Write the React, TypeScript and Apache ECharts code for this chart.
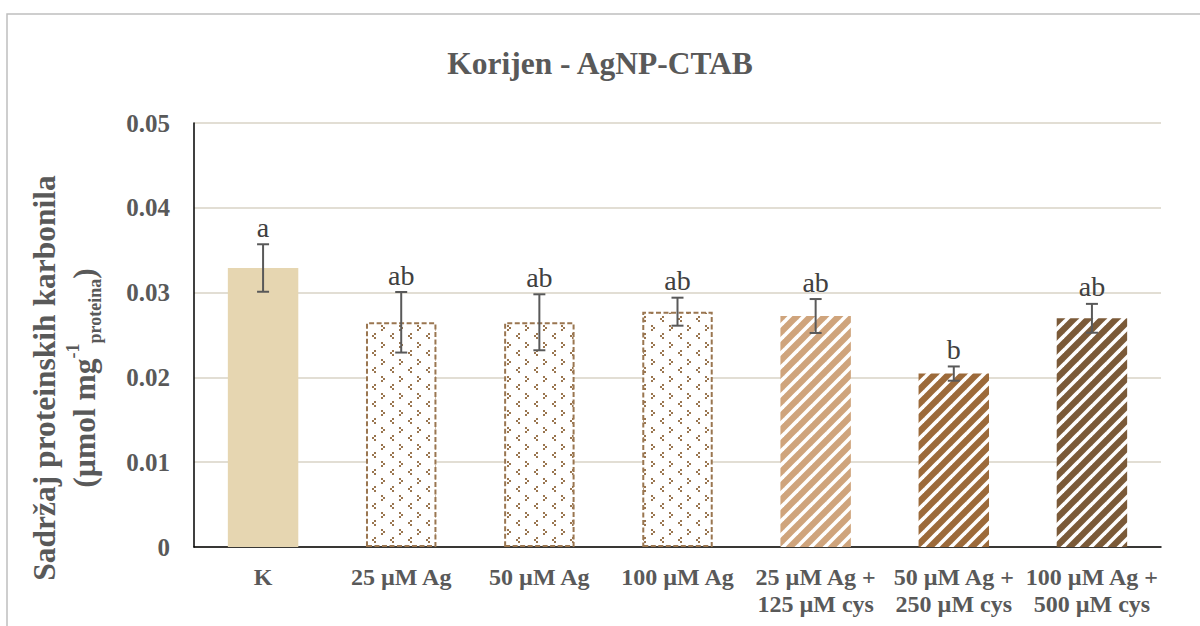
import React, { useEffect, useRef } from "react";
import * as echarts from "echarts";

const categories = [
  "K",
  "25 µM Ag",
  "50 µM Ag",
  "100 µM Ag",
  "25 µM Ag +\n125 µM cys",
  "50 µM Ag +\n250 µM cys",
  "100 µM Ag +\n500 µM cys",
];
const means = [0.0329, 0.0265, 0.0265, 0.02775, 0.02724, 0.02045, 0.02697];
const errors = [0.0028, 0.00357, 0.0033, 0.00165, 0.002, 0.00084, 0.0017];
const letters = ["a", "ab", "ab", "ab", "ab", "b", "ab"];
const yTicks = [0, 0.01, 0.02, 0.03, 0.04, 0.05];

const SERIF = "'Liberation Serif', 'Times New Roman', serif";

function stripePattern(color: string) {
  const N = 14;
  const c = document.createElement("canvas");
  c.width = N;
  c.height = N;
  const ctx = c.getContext("2d")!;
  ctx.fillStyle = color;
  ctx.fillRect(0, 0, N, N);
  ctx.strokeStyle = "#ffffff";
  ctx.lineWidth = 3.6;
  for (const k of [0, N, 2 * N]) {
    ctx.beginPath();
    ctx.moveTo(k - 2 * N, 2 * N);
    ctx.lineTo(k + 2 * N, -2 * N);
    ctx.stroke();
  }
  return { image: c, repeat: "repeat", imageWidth: N, imageHeight: N } as any;
}

function dotPattern(color: string) {
  const W = 18;
  const H = 17;
  const c = document.createElement("canvas");
  c.width = W;
  c.height = H;
  const ctx = c.getContext("2d")!;
  ctx.fillStyle = "#ffffff";
  ctx.fillRect(0, 0, W, H);
  ctx.fillStyle = color;
  // ">" mark
  ctx.fillRect(3, 2, 2, 2);
  ctx.fillRect(5, 4, 2, 2);
  ctx.fillRect(3, 6, 2, 2);
  // "<" mark
  ctx.fillRect(14, 10, 2, 2);
  ctx.fillRect(12, 12, 2, 2);
  ctx.fillRect(14, 14, 2, 2);
  return { image: c, repeat: "repeat", imageWidth: W, imageHeight: H } as any;
}

export default function App() {
  const ref = useRef<HTMLDivElement>(null);

  useEffect(() => {
    if (!ref.current) return;
    const chart = echarts.init(ref.current, undefined, { renderer: "svg" });

    const dotBorder = "#9a7650";
    const dotStyle = { color: dotPattern("#9a7650"), borderColor: dotBorder, borderWidth: 2, borderType: [5, 2.5] };
    const barStyles = [
      { color: "#e6d6b1" },
      dotStyle,
      dotStyle,
      dotStyle,
      { color: stripePattern("#cfa47c") },
      { color: stripePattern("#9c6a3a") },
      { color: stripePattern("#7b5a38") },
    ];

    const barData = means.map((v, i) => ({ value: v, itemStyle: barStyles[i] }));
    const errData = means.map((v, i) => [i, v, errors[i], letters[i]]);

    chart.setOption({
      animation: false,
      backgroundColor: "#ffffff",
      title: {
        text: "Korijen - AgNP-CTAB",
        left: "center",
        top: 42,
        textStyle: {
          fontFamily: SERIF,
          fontWeight: "bold",
          fontSize: 31.5,
          color: "#595959",
        },
      },
      grid: { left: 194, right: 39, top: 123, bottom: 79, containLabel: false },
      xAxis: {
        type: "category",
        data: categories,
        axisLine: { show: true, lineStyle: { color: "#000000", width: 1.5 } },
        axisTick: { show: false },
        axisLabel: {
          interval: 0,
          margin: 16,
          fontFamily: SERIF,
          fontWeight: "bold",
          fontSize: 24,
          lineHeight: 27,
          color: "#595959",
        },
      },
      yAxis: {
        type: "value",
        min: 0,
        max: 0.05,
        interval: 0.01,
        axisLine: { show: true, lineStyle: { color: "#000000", width: 1.5 } },
        axisTick: { show: false },
        splitLine: { show: true, lineStyle: { color: "#d9d3c6", width: 1.5 } },
        axisLabel: {
          margin: 24,
          fontFamily: SERIF,
          fontWeight: "bold",
          fontSize: 25,
          color: "#595959",
          formatter: (v: number) => (yTicks.includes(Number(v.toFixed(2))) ? String(Number(v.toFixed(2))) : ""),
        },
      },
      graphic: [
        {
          type: "rect",
          z: -10,
          silent: true,
          shape: { x: 7, y: 14, width: 1250, height: 700 },
          style: { fill: "none", stroke: "#bfbfbf", lineWidth: 1.5 },
        },
        {
          type: "text",
          x: 64,
          y: 378,
          rotation: Math.PI / 2,
          style: {
            text: "Sadržaj proteinskih karbonila\n{n|(µmol mg}{sup|-1}{sub|proteina}{n|)}",
            fontFamily: SERIF,
            fontWeight: "bold",
            fontSize: 31.5,
            lineHeight: 40,
            fill: "#595959",
            align: "center",
            verticalAlign: "middle",
            rich: {
              n: { fontFamily: SERIF, fontWeight: "bold", fontSize: 31.5, lineHeight: 40, color: "#595959" },
              sup: {
                fontFamily: SERIF,
                fontWeight: "bold",
                fontSize: 18,
                lineHeight: 18,
                verticalAlign: "top",
                color: "#595959",
              },
              sub: {
                fontFamily: SERIF,
                fontWeight: "bold",
                fontSize: 18,
                lineHeight: 18,
                verticalAlign: "bottom",
                color: "#595959",
              },
            },
          },
        },
      ],
      series: [
        {
          type: "bar",
          data: barData,
          barWidth: "51%",
          z: 2,
        },
        {
          type: "custom",
          z: 5,
          clip: false,
          data: errData,
          renderItem: (params: any, api: any) => {
            const idx = api.value(0);
            const m = api.value(1);
            const e = api.value(2);
            const letter = letters[params.dataIndex];
            const top = api.coord([idx, m + e]);
            const bot = api.coord([idx, m - e]);
            const cap = 6;
            const ls = { stroke: "#595959", lineWidth: 2 };
            return {
              type: "group",
              children: [
                { type: "line", shape: { x1: top[0], y1: top[1], x2: bot[0], y2: bot[1] }, style: ls },
                { type: "line", shape: { x1: top[0] - cap, y1: top[1], x2: top[0] + cap, y2: top[1] }, style: ls },
                { type: "line", shape: { x1: bot[0] - cap, y1: bot[1], x2: bot[0] + cap, y2: bot[1] }, style: ls },
                {
                  type: "text",
                  x: top[0],
                  y: top[1] - 3,
                  style: {
                    text: letter,
                    fontFamily: SERIF,
                    fontSize: 28,
                    fill: "#404040",
                    align: "center",
                    verticalAlign: "bottom",
                  },
                },
              ],
            };
          },
        },
      ],
    });

    return () => chart.dispose();
  }, []);

  return (
    <div
      ref={ref}
      style={{ position: "absolute", left: 0, top: 0, width: 1200, height: 626 }}
    />
  );
}
